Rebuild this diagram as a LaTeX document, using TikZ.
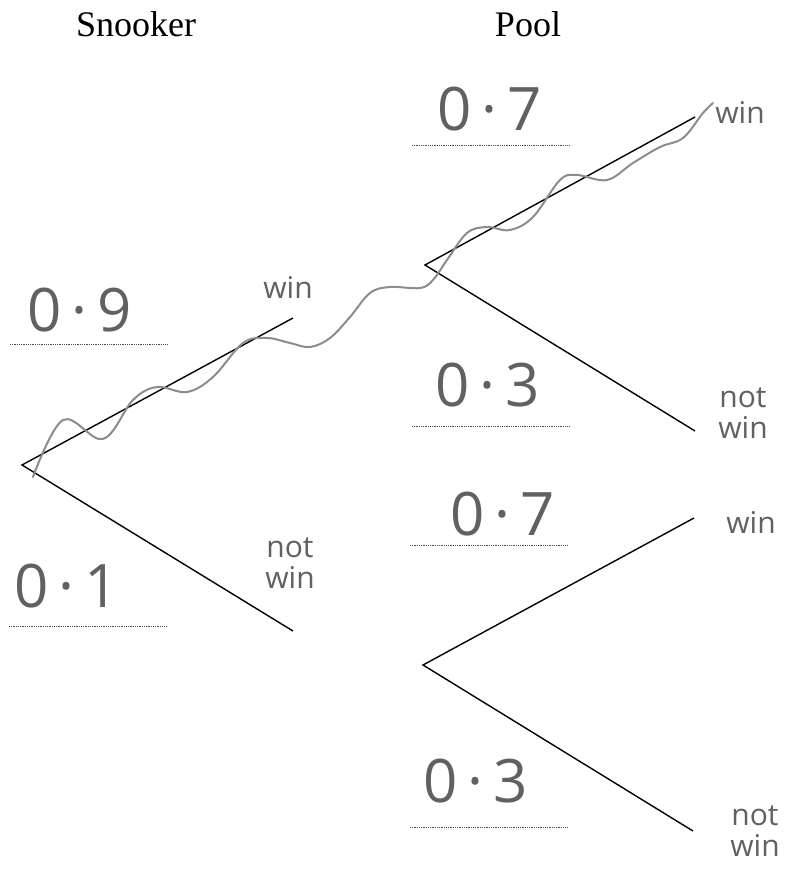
\documentclass[tikz,border=0pt]{standalone}
\usepackage{fontspec}
\setmainfont{Liberation Serif}
\newfontfamily\hand{Open Sans}
\begin{document}
\begin{tikzpicture}[x=1pt,y=-1pt,
  title/.style={font=\fontsize{36}{40}\selectfont, anchor=base},
  prob/.style={font=\hand\fontsize{60}{60}\selectfont, text=black!62, inner sep=0pt},
  outc/.style={font=\hand\fontsize{30}{31}\selectfont, text=black!62, inner sep=0pt, align=center},
  branch/.style={line width=1.4pt, black},
  ansline/.style={black!70, line width=0.9pt, dash pattern=on 0.9pt off 0.9pt},
  wave/.style={black!45, line width=2pt, line cap=round}]
\useasboundingbox (0,0) rectangle (793,869);
\node[title] (snk) at (136,37) {Snooker};
\node[title] (pool) at (528,37) {Pool};
% tree points
\coordinate (r) at (22,465);
\coordinate (a) at (293,318);
\coordinate (b) at (293,631);
\coordinate (u) at (425,265);
\coordinate (uw) at (695,117);
\coordinate (un) at (695,431);
\coordinate (l) at (423,665);
\coordinate (lw) at (694,518);
\coordinate (ln) at (693,831);
\draw[branch] (a) -- (r) -- (b);
\draw[branch] (uw) -- (u) -- (un);
\draw[branch] (lw) -- (l) -- (ln);
% answer lines
\coordinate (d1a) at (10,344); \coordinate (d1b) at (168,344);
\coordinate (d2a) at (9,626); \coordinate (d2b) at (167,626);
\coordinate (d3a) at (412,145); \coordinate (d3b) at (570,145);
\coordinate (d4a) at (412,426); \coordinate (d4b) at (570,426);
\coordinate (d5a) at (410,545); \coordinate (d5b) at (568,545);
\coordinate (d6a) at (410,827); \coordinate (d6b) at (567,827);
\draw[ansline] (d1a) -- (d1b);
\draw[ansline] (d2a) -- (d2b);
\draw[ansline] (d3a) -- (d3b);
\draw[ansline] (d4a) -- (d4b);
\draw[ansline] (d5a) -- (d5b);
\draw[ansline] (d6a) -- (d6b);
% probabilities
\node[prob] (p1) at (80,310) {0\,·\,9};
\node[prob] (p2) at (67,586) {0\,·\,1};
\node[prob] (p3) at (490,109) {0\,·\,7};
\node[prob] (p4) at (488,385) {0\,·\,3};
\node[prob] (p5) at (503,514) {0\,·\,7};
\node[prob] (p6) at (476,781) {0\,·\,3};
% outcomes
\node[outc] (o1) at (288,287) {win};
\node[outc] (o2) at (290,563) {not\\win};
\node[outc] (o3) at (740,112) {win};
\node[outc] (o4) at (743,413) {not\\win};
\node[outc] (o5) at (751,522) {win};
\node[outc] (o6) at (755,831) {not\\win};
% wavy highlight
\draw[wave] plot[smooth, tension=0.6] coordinates {(33,477) (63,420) (103,439) (133,400) (157,387) (187,392) (213,377) (243,343) (267,338) (290,343) (310,347) (330,338) (350,317) (370,293) (390,287) (420,288) (433,280) (447,260) (467,233) (487,227) (510,230) (533,217) (560,180) (577,175) (607,180) (633,163) (660,147) (683,138) (703,113) (713,103)};
\end{tikzpicture}
\end{document}
